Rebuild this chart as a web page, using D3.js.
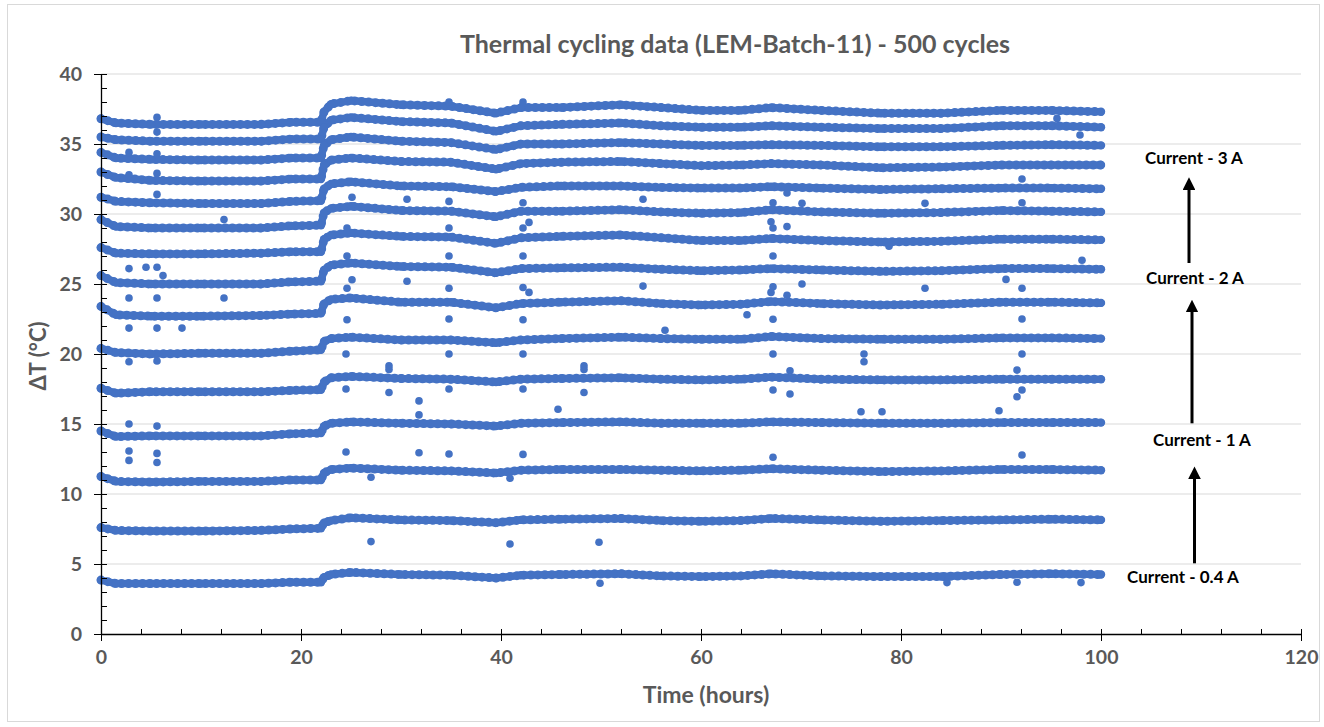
<!DOCTYPE html>
<html lang="en">
<head>
<meta charset="UTF-8">
<title>Thermal cycling data</title>
<script src="https://cdn.jsdelivr.net/npm/d3@7"></script>
<style>
  body { margin: 0; background: #fff; }
  svg text { font-family: Lato, "Open Sans", sans-serif; }
</style>
</head>
<body>
<div id="chart"></div>
<script>
// sample times (hours)
const times = [0, 1.5, 5, 10, 16, 19, 22.0, 22.3, 23.0, 25, 30, 35, 39.5, 42, 46, 52, 56, 60, 64, 67, 72, 78, 84, 90, 95, 100];

// one row per trace, top to bottom
const s1  = [36.8, 36.5, 36.4, 36.4, 36.4, 36.55, 36.55, 37.3, 37.85, 38.1, 37.8, 37.7, 37.2, 37.6, 37.6, 37.8, 37.6, 37.4, 37.4, 37.6, 37.4, 37.2, 37.2, 37.4, 37.4, 37.3];
const s2  = [35.5, 35.3, 35.2, 35.2, 35.2, 35.35, 35.35, 36.2, 36.7, 36.9, 36.6, 36.5, 35.9, 36.3, 36.4, 36.5, 36.3, 36.2, 36.2, 36.3, 36.2, 36.1, 36.1, 36.3, 36.3, 36.2];
const s3  = [34.4, 34.0, 33.9, 33.85, 33.85, 34.0, 34.0, 34.9, 35.3, 35.5, 35.2, 35.1, 34.6, 35.0, 35.0, 35.1, 35.0, 34.9, 34.9, 34.95, 34.9, 34.8, 34.8, 34.9, 34.95, 34.9];
const s4  = [33.0, 32.6, 32.4, 32.35, 32.35, 32.5, 32.5, 33.5, 33.85, 34.0, 33.75, 33.7, 33.2, 33.6, 33.7, 33.75, 33.6, 33.45, 33.5, 33.6, 33.5, 33.3, 33.35, 33.5, 33.5, 33.5];
const s5  = [31.2, 30.9, 30.8, 30.75, 30.75, 30.9, 30.95, 31.8, 32.15, 32.3, 32.0, 31.95, 31.6, 31.9, 32.0, 32.0, 31.9, 31.85, 31.85, 31.95, 31.85, 31.75, 31.8, 31.85, 31.85, 31.8];
const s6  = [29.6, 29.1, 29.0, 29.0, 29.0, 29.15, 29.2, 30.1, 30.4, 30.55, 30.25, 30.2, 29.8, 30.2, 30.2, 30.3, 30.15, 30.05, 30.1, 30.3, 30.15, 30.05, 30.1, 30.25, 30.2, 30.15];
const s7  = [27.6, 27.2, 27.15, 27.15, 27.2, 27.3, 27.3, 28.2, 28.5, 28.65, 28.4, 28.35, 27.9, 28.3, 28.4, 28.5, 28.3, 28.1, 28.1, 28.25, 28.1, 28.0, 28.05, 28.2, 28.2, 28.15];
const s8  = [25.6, 25.1, 25.0, 25.0, 25.0, 25.15, 25.2, 26.0, 26.35, 26.5, 26.25, 26.2, 25.8, 26.1, 26.15, 26.2, 26.05, 25.95, 26.0, 26.1, 26.0, 25.9, 25.95, 26.1, 26.1, 26.05];
const s9  = [23.4, 22.8, 22.7, 22.7, 22.75, 22.85, 22.9, 23.6, 23.9, 24.0, 23.7, 23.7, 23.3, 23.6, 23.7, 23.8, 23.6, 23.5, 23.55, 23.75, 23.6, 23.5, 23.55, 23.7, 23.7, 23.65];
const s10 = [20.4, 20.1, 20.0, 20.05, 20.05, 20.2, 20.3, 20.9, 21.1, 21.2, 21.0, 21.0, 20.8, 21.0, 21.1, 21.2, 21.1, 21.05, 21.05, 21.25, 21.1, 21.05, 21.05, 21.15, 21.15, 21.1];
const s11 = [17.55, 17.2, 17.3, 17.3, 17.3, 17.4, 17.45, 18.0, 18.3, 18.4, 18.25, 18.2, 18.0, 18.2, 18.25, 18.3, 18.2, 18.15, 18.2, 18.35, 18.2, 18.15, 18.15, 18.2, 18.2, 18.2];
const s12 = [14.5, 14.1, 14.15, 14.15, 14.15, 14.3, 14.35, 14.85, 15.05, 15.15, 15.05, 15.0, 14.85, 15.05, 15.1, 15.15, 15.05, 15.05, 15.05, 15.15, 15.1, 15.05, 15.05, 15.1, 15.1, 15.1];
const s13 = [11.25, 10.9, 10.85, 10.9, 10.9, 11.0, 11.0, 11.5, 11.75, 11.85, 11.7, 11.65, 11.5, 11.7, 11.75, 11.75, 11.7, 11.65, 11.7, 11.8, 11.7, 11.6, 11.65, 11.75, 11.75, 11.7];
const s14 = [7.6, 7.4, 7.35, 7.35, 7.4, 7.5, 7.55, 7.95, 8.1, 8.3, 8.15, 8.1, 7.95, 8.15, 8.2, 8.25, 8.1, 8.05, 8.1, 8.25, 8.15, 8.05, 8.1, 8.15, 8.2, 8.15];
const s15 = [3.85, 3.6, 3.6, 3.6, 3.6, 3.7, 3.7, 4.05, 4.25, 4.4, 4.25, 4.2, 4.0, 4.2, 4.25, 4.3, 4.15, 4.1, 4.15, 4.3, 4.15, 4.1, 4.1, 4.25, 4.3, 4.25];
const series = [s1, s2, s3, s4, s5, s6, s7, s8, s9, s10, s11, s12, s13, s14, s15];

// stray readings [time, dT]
const strays = [
  [2.8, 26.1], [4.5, 26.2], [5.6, 26.2], [6.2, 25.6], [2.8, 24.0], [5.6, 24.0], [12.3, 24.0],
  [2.8, 21.85], [5.6, 21.85], [8.1, 21.85], [12.3, 29.6],
  [5.6, 36.9], [5.6, 35.85], [5.6, 34.3], [2.8, 34.4], [5.6, 32.9], [2.8, 32.8], [5.6, 31.4],
  [2.8, 19.45], [5.6, 19.5], [2.8, 15.0], [5.6, 14.85], [2.8, 13.07], [2.8, 12.4], [5.6, 12.9], [5.6, 12.25],
  [24.5, 20.0], [24.5, 17.5], [24.5, 13.0],
  [25.1, 31.2], [30.6, 31.05], [34.8, 30.9], [42.2, 30.8], [54.2, 31.05],
  [24.6, 29.0], [34.8, 29.0], [42.2, 29.0], [42.8, 29.4],
  [24.6, 27.0], [34.8, 27.0], [42.2, 27.0],
  [25.1, 25.3], [30.6, 25.2], [34.8, 24.7], [42.2, 24.75], [42.8, 24.4], [54.2, 24.85], [24.6, 24.7],
  [24.6, 22.45], [34.8, 22.5], [42.2, 22.45], [56.4, 21.7],
  [34.8, 20.0], [42.2, 20.0],
  [28.8, 19.15], [28.8, 18.9], [48.3, 19.15], [48.3, 18.9],
  [28.8, 17.25], [34.8, 17.5], [42.2, 17.5], [48.3, 17.25],
  [31.8, 16.65], [31.8, 15.65], [45.7, 16.05],
  [31.8, 12.95], [34.8, 12.86], [42.2, 12.83],
  [27.0, 11.2], [40.9, 11.12], [27.0, 6.6], [40.9, 6.43], [49.8, 6.55], [49.9, 3.62],
  [34.8, 38.0], [42.2, 38.0],
  [95.6, 36.83], [97.9, 35.64], [92.1, 32.5],
  [68.6, 31.5], [67.2, 30.8], [70.1, 30.76], [82.4, 30.76], [92.1, 30.8],
  [67.0, 29.45], [67.2, 29.0], [68.6, 29.1], [67.2, 27.0], [78.8, 27.7], [98.1, 26.7],
  [67.2, 24.8], [67.0, 24.4], [68.6, 24.2], [70.1, 25.0], [82.4, 24.7], [90.5, 25.33], [92.1, 24.7],
  [64.6, 22.8], [67.2, 22.48], [92.1, 22.5],
  [67.2, 20.0], [76.3, 20.0], [76.3, 19.45], [92.1, 20.0],
  [68.9, 18.8], [91.6, 18.85], [67.2, 17.43], [68.9, 17.14], [92.1, 17.43], [91.6, 16.95],
  [76.0, 15.88], [78.1, 15.88], [89.8, 15.95],
  [67.2, 12.62], [92.1, 12.79],
  [84.6, 3.67], [91.6, 3.7], [98.0, 3.67]
];

// annotations
const noteLabels = ["Current - 3 A", "Current - 2 A", "Current - 1 A", "Current - 0.4 A"];
const noteT = [109.3, 109.4, 110.1, 108.2];
const noteV = [34.0, 25.4, 13.86, 4.07];
const arrowT = [108.8, 109.1, 109.35];
const arrowFrom = [26.5, 15.05, 5.05];
const arrowTo = [32.6, 23.85, 11.95];

const xMajor = d3.range(0, 121, 20);
const xMinor = d3.range(0, 121, 4);
const yMajor = d3.range(0, 41, 5);
const yMinor = d3.range(0, 41, 1);

const width = 1324, height = 727;
const blue = "#4472C4", grey = "#595959";

const x = d3.scaleLinear().domain([0, 120]).range([101, 1301]);
const y = d3.scaleLinear().domain([0, 40]).range([634, 74]);

const svg = d3.select("#chart").append("svg")
  .attr("width", width)
  .attr("height", height);

svg.append("rect")
  .attr("x", 7.5).attr("y", 4.5)
  .attr("width", 1312).attr("height", 717)
  .attr("fill", "none").attr("stroke", "#d9d9d9");

// horizontal grid
svg.append("g")
  .selectAll("line")
  .data(yMajor.filter(d => d > 0))
  .join("line")
  .attr("x1", x(0)).attr("x2", x(120))
  .attr("y1", d => y(d)).attr("y2", d => y(d))
  .attr("stroke", "#d9d9d9").attr("stroke-width", 1.2);

// traces: solid band + beaded overlay + sample dots
const line = d3.line()
  .x((d, i) => x(times[i]))
  .y(d => y(d));

const traces = svg.append("g");
traces.selectAll("path.band")
  .data(series)
  .join("path")
  .attr("class", "band")
  .attr("d", line)
  .attr("fill", "none")
  .attr("stroke", blue)
  .attr("stroke-width", 7.5)
  .attr("stroke-linejoin", "round")
  .attr("stroke-linecap", "round");
traces.selectAll("path.bead")
  .data(series)
  .join("path")
  .attr("class", "bead")
  .attr("d", line)
  .attr("fill", "none")
  .attr("stroke", blue)
  .attr("stroke-width", 9)
  .attr("stroke-dasharray", "0 7")
  .attr("stroke-linecap", "round");
traces.selectAll("g")
  .data(series)
  .join("g")
  .selectAll("circle")
  .data(d => d)
  .join("circle")
  .attr("cx", (d, i) => x(times[i]))
  .attr("cy", d => y(d))
  .attr("r", 4.2)
  .attr("fill", blue);

svg.append("g")
  .selectAll("circle")
  .data(strays)
  .join("circle")
  .attr("cx", d => x(d[0]))
  .attr("cy", d => y(d[1]))
  .attr("r", 3.8)
  .attr("fill", blue);

// x axis
svg.append("g")
  .attr("transform", `translate(0,${y(0)})`)
  .call(d3.axisBottom(x).tickValues(xMinor).tickSize(-5).tickFormat(""))
  .call(g => g.select(".domain").remove())
  .call(g => g.selectAll(".tick line").attr("stroke", "#000"));
svg.append("g")
  .attr("transform", `translate(0,${y(0)})`)
  .call(d3.axisBottom(x).tickValues(xMajor).tickSizeOuter(0))
  .call(g => g.select(".domain").attr("stroke", "#000").attr("stroke-width", 1.3))
  .call(g => g.selectAll(".tick line").attr("y1", -5).attr("y2", 7).attr("stroke", "#000"))
  .call(g => g.selectAll(".tick text")
    .attr("y", 23).attr("dy", "0.35em")
    .attr("fill", grey).attr("font-size", 19.5).attr("font-weight", "bold")
    .style("font-family", "Lato, sans-serif"));

// y axis
svg.append("g")
  .attr("transform", `translate(${x(0)},0)`)
  .call(d3.axisLeft(y).tickValues(yMinor).tickSize(-6).tickFormat(""))
  .call(g => g.select(".domain").remove())
  .call(g => g.selectAll(".tick line").attr("stroke", "#000"));
svg.append("g")
  .attr("transform", `translate(${x(0)},0)`)
  .call(d3.axisLeft(y).tickValues(yMajor).tickSizeOuter(0))
  .call(g => g.select(".domain").attr("stroke", "#000").attr("stroke-width", 1.3))
  .call(g => g.selectAll(".tick line").attr("x1", 6).attr("x2", -7).attr("stroke", "#000"))
  .call(g => g.selectAll(".tick text")
    .attr("x", -19)
    .attr("fill", grey).attr("font-size", 19.5).attr("font-weight", "bold")
    .style("font-family", "Lato, sans-serif"));

// titles
svg.append("text")
  .attr("x", 735).attr("y", 53)
  .attr("text-anchor", "middle")
  .attr("fill", grey).attr("font-size", 25).attr("font-weight", "bold")
  .text("Thermal cycling data (LEM-Batch-11) - 500 cycles");

svg.append("text")
  .attr("x", 706).attr("y", 703)
  .attr("text-anchor", "middle")
  .attr("fill", grey).attr("font-size", 23).attr("font-weight", "bold")
  .text("Time (hours)");

svg.append("text")
  .attr("transform", "translate(46,356) rotate(-90)")
  .attr("text-anchor", "middle")
  .attr("fill", grey).attr("font-size", 22).attr("font-weight", "bold")
  .text("ΔT (°C)");

// current annotations
svg.append("defs").append("marker")
  .attr("id", "head")
  .attr("viewBox", "0 0 10 10")
  .attr("refX", 5).attr("refY", 5)
  .attr("markerWidth", 4.2).attr("markerHeight", 4.2)
  .attr("orient", "auto")
  .append("path")
  .attr("d", "M0,0L10,5L0,10z")
  .attr("fill", "#000");

svg.append("g")
  .selectAll("line")
  .data(arrowT)
  .join("line")
  .attr("x1", d => x(d)).attr("x2", d => x(d))
  .attr("y1", (d, i) => y(arrowFrom[i]))
  .attr("y2", (d, i) => y(arrowTo[i]) + 6)
  .attr("stroke", "#000").attr("stroke-width", 3)
  .attr("marker-end", "url(#head)");

svg.append("g")
  .selectAll("text")
  .data(noteLabels)
  .join("text")
  .attr("x", (d, i) => x(noteT[i]))
  .attr("y", (d, i) => y(noteV[i]))
  .attr("dy", "0.35em")
  .attr("text-anchor", "middle")
  .attr("fill", "#000").attr("font-size", 17).attr("font-weight", "bold")
  .text(d => d);
</script>
</body>
</html>
